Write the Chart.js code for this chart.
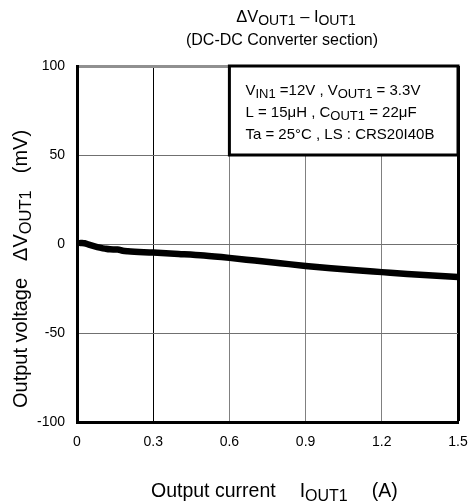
<!DOCTYPE html>
<html>
<head>
<meta charset="utf-8">
<script src="https://cdn.jsdelivr.net/npm/chart.js@4.4.0/dist/chart.umd.min.js"></script>
<style>
  html, body { margin: 0; padding: 0; background: #fff; }
  #wrap { width: 468px; height: 504px; }
</style>
</head>
<body>
<div id="wrap"><canvas id="chart" width="468" height="504"></canvas></div>
<script>
const xTicks = [0, 0.3, 0.6, 0.9, 1.2, 1.5];
const yTicks = [-100, -50, 0, 50, 100];

// output current (A) vs change in output voltage (mV)
const current = [0.015, 0.03, 0.05, 0.07, 0.09, 0.11, 0.13, 0.16, 0.18, 0.2, 0.3, 0.4, 0.5, 0.6, 0.7, 0.8, 0.9, 1.0, 1.1, 1.2, 1.3, 1.4, 1.5];
const deltaV = [0.6, 0.4, -0.5, -1.3, -2.0, -2.6, -3.0, -3.1, -3.8, -4.1, -4.8, -5.6, -6.5, -7.8, -9.3, -10.8, -12.3, -13.6, -14.8, -15.8, -16.8, -17.7, -18.6];

const FONT = '"Liberation Sans", Arial, sans-serif';

// draws text pieces in a row, sub pieces smaller and lower
function drawParts(ctx, parts, x, y, align) {
    let total = 0;
    parts.forEach(p => {
        ctx.font = p.size + 'px ' + FONT;
        p.w = ctx.measureText(p.t).width;
        total += p.w + (p.gap || 0);
    });
    let cx = align === 'center' ? x - total / 2 : x;
    parts.forEach(p => {
        ctx.font = p.size + 'px ' + FONT;
        cx += (p.gap || 0);
        ctx.fillText(p.t, cx, y + (p.dy || 0));
        cx += p.w;
    });
}

const textPlugin = {
    id: 'texts',
    afterDraw(chart) {
        const ctx = chart.ctx;
        const xs = chart.scales.x, ys = chart.scales.y;
        ctx.save();
        ctx.fillStyle = '#000';
        ctx.textBaseline = 'alphabetic';
        ctx.textAlign = 'left';

        // title
        drawParts(ctx, [
            { t: '\u0394V', size: 16.5 },
            { t: 'OUT1', size: 14, dy: 3 },
            { t: ' \u2013 I', size: 16.5 },
            { t: 'OUT1', size: 14, dy: 3 }
        ], 296, 22, 'center');
        drawParts(ctx, [{ t: '(DC-DC Converter section)', size: 16 }], 282, 45, 'center');

        // condition box
        const bx1 = xs.getPixelForValue(0.6), bx2 = xs.getPixelForValue(1.5);
        const by1 = ys.getPixelForValue(100), by2 = ys.getPixelForValue(50);
        ctx.fillStyle = '#fff';
        ctx.fillRect(bx1, by1, bx2 - bx1, by2 - by1);
        ctx.strokeStyle = '#000';
        ctx.lineWidth = 3;
        ctx.strokeRect(bx1, by1, bx2 - bx1, by2 - by1);
        ctx.fillStyle = '#000';
        const lx = bx1 + 16;
        drawParts(ctx, [
            { t: 'V', size: 15 },
            { t: 'IN1', size: 13, dy: 3 },
            { t: ' =12V , V', size: 15 },
            { t: 'OUT1', size: 13, dy: 3 },
            { t: ' = 3.3V', size: 15 }
        ], lx, by1 + 29, 'left');
        drawParts(ctx, [
            { t: 'L = 15\u03bcH , C', size: 15 },
            { t: 'OUT1', size: 13, dy: 3 },
            { t: ' = 22\u03bcF', size: 15 }
        ], lx, by1 + 51, 'left');
        drawParts(ctx, [
            { t: 'Ta = 25\u00b0C , LS : CRS20I40B', size: 15 }
        ], lx, by1 + 73, 'left');

        // x axis title
        drawParts(ctx, [
            { t: 'Output current', size: 19.5 },
            { t: 'I', size: 19.5, gap: 24 },
            { t: 'OUT1', size: 16, dy: 4 },
            { t: '(A)', size: 19.5, gap: 24 }
        ], 151, 497, 'left');

        // y axis title
        ctx.translate(27, 408);
        ctx.rotate(-Math.PI / 2);
        drawParts(ctx, [
            { t: 'Output voltage', size: 20 },
            { t: '\u0394V', size: 20, gap: 17 },
            { t: 'OUT1', size: 16.5, dy: 4 },
            { t: '(mV)', size: 20, gap: 17 }
        ], 0, 0, 'left');
        ctx.restore();
    }
};

new Chart(document.getElementById('chart'), {
    type: 'line',
    data: {
        datasets: [{
            data: current.map((c, i) => ({ x: c, y: deltaV[i] })),
            borderColor: '#000',
            borderWidth: 6.5,
            borderCapStyle: 'round',
            borderJoinStyle: 'round',
            pointRadius: 0,
            cubicInterpolationMode: 'monotone',
            fill: false
        }]
    },
    options: {
        responsive: false,
        animation: false,
        events: [],
        layout: { autoPadding: false, padding: { left: 0, top: 66, right: 0, bottom: 0 } },
        plugins: { legend: { display: false }, tooltip: { enabled: false } },
        scales: {
            x: {
                type: 'linear', min: 0, max: 1.5,
                afterBuildTicks: s => { s.ticks = xTicks.map(v => ({ value: v })); },
                afterFit: s => { s.height = 82; s.paddingRight = 10; },
                ticks: {
                    padding: 12, color: '#000', maxRotation: 0,
                    font: { family: FONT, size: 14 },
                    callback: v => String(v)
                },
                grid: {
                    drawTicks: false,
                    color: c => c.tick && (c.tick.value === 0.3 || c.tick.value === 1.5) ? '#000' : '#808080',
                    lineWidth: c => c.tick && c.tick.value === 1.5 ? 3 : 1
                },
                border: { color: '#000', width: 3 }
            },
            y: {
                min: -100, max: 100,
                afterBuildTicks: s => { s.ticks = yTicks.map(v => ({ value: v })); },
                afterFit: s => { s.width = 77; },
                ticks: {
                    padding: 12, color: '#000',
                    font: { family: FONT, size: 14 },
                    callback: v => String(v)
                },
                grid: {
                    drawTicks: false,
                    color: c => c.tick && c.tick.value === 100 ? '#909090' : '#707070',
                    lineWidth: c => c.tick && c.tick.value === 100 ? 3 : 1
                },
                border: { color: '#000', width: 3 }
            }
        }
    },
    plugins: [textPlugin]
});
</script>
</body>
</html>
